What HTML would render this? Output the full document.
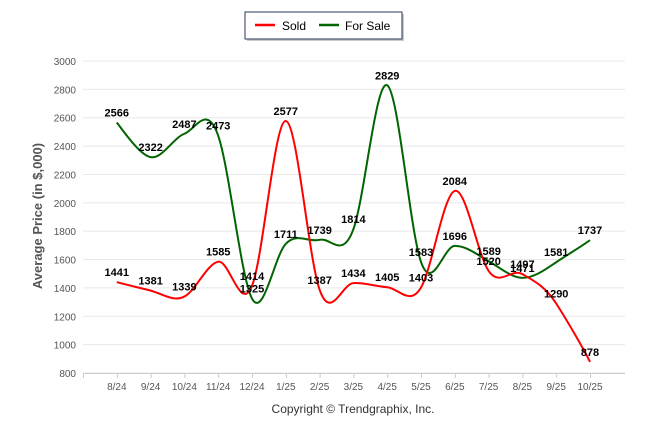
<!DOCTYPE html>
<html><head><meta charset="utf-8"><style>
body{margin:0;background:#fff;font-family:"Liberation Sans",sans-serif}
svg text{font-family:"Liberation Sans",sans-serif}
</style></head><body>
<svg width="646" height="434" id="c">
<rect x="0" y="0" width="646" height="434" fill="#fff"/>
<g>
<rect x="247" y="14" width="157" height="27" fill="#666" opacity="0.35"/>
<rect x="245" y="12" width="157" height="27" fill="#fff" stroke="#2a3a5a" stroke-width="1"/>
<line x1="255" y1="25" x2="275" y2="25" stroke="#f00" stroke-width="2.5"/>
<text x="282" y="30" font-size="12" fill="#000">Sold</text>
<line x1="319" y1="25" x2="339" y2="25" stroke="#006400" stroke-width="2.5"/>
<text x="345" y="30" font-size="12" fill="#000">For Sale</text>
</g>
<g id="grid"></g>
<g id="series"></g>
<g id="labels"></g>
<text transform="translate(42,216) rotate(-90)" text-anchor="middle" font-size="13" font-weight="bold" fill="#555">Average Price (in $,000)</text>
<text x="353" y="413" text-anchor="middle" font-size="12" fill="#333">Copyright © Trendgraphix, Inc.</text>
</svg>
<script>
const categories=["8/24","9/24","10/24","11/24","12/24","1/25","2/25","3/25","4/25","5/25","6/25","7/25","8/25","9/25","10/25"];
const soldValues=[1441,1381,1339,1585,1414,2577,1387,1434,1405,1403,2084,1520,1497,1290,878];
const forSaleValues=[2566,2322,2487,2473,1325,1711,1739,1814,2829,1583,1696,1589,1471,1581,1737];
const yTicks=[800,1000,1200,1400,1600,1800,2000,2200,2400,2600,2800,3000];
const NS="http://www.w3.org/2000/svg";
const left=83,right=625,step=33.8;
function xs(i){return left+(i+1)*step;}
function ys(v){return 373-(v-800)*(312/2200);}
const grid=document.getElementById('grid');
function el(t,a,p){const e=document.createElementNS(NS,t);for(const k in a)e.setAttribute(k,a[k]);p.appendChild(e);return e;}
yTicks.forEach(v=>{
 const l=el('line',{x1:left,x2:right,y1:ys(v),y2:ys(v),stroke:'#e8e8e8','stroke-width':1},grid);
 
 
 const t=el('text',{x:left-7,y:ys(v)+4,'text-anchor':'end','font-size':10,fill:'#555'},grid);
 t.textContent=v;
 
 
});
const ax=el('line',{x1:left,x2:right,y1:373.5,y2:373.5,stroke:'#ccc'},grid);


for(let i=0;i<=categories.length;i++){const tk=el('line',{x1:left+i*step+0.5,x2:left+i*step+0.5,y1:373,y2:378,stroke:'#ccc'},grid);
 
 }
categories.forEach((c,i)=>{
 const t=el('text',{x:xs(i),y:390,'text-anchor':'middle','font-size':10,fill:'#555'},grid);
 t.textContent=c;
 
 
});
function path(vals){
 const p=vals.map((v,i)=>[xs(i),ys(v)]);
 let d='M'+p[0][0]+','+p[0][1];
 for(let i=0;i<p.length-1;i++){
  const p0=p[i-1]||p[i],p1=p[i],p2=p[i+1],p3=p[i+2]||p2;
  const c1=[p1[0]+(p2[0]-p0[0])/6,p1[1]+(p2[1]-p0[1])/6*1.2];
  const c2=[p2[0]-(p3[0]-p1[0])/6,p2[1]-(p3[1]-p1[1])/6*1.2];
  d+=' C'+c1[0]+','+c1[1]+' '+c2[0]+','+c2[1]+' '+p2[0]+','+p2[1];
 }
 return d;
}
const sg=document.getElementById('series'),lg=document.getElementById('labels');
[[forSaleValues,'#006400','for-sale'],[soldValues,'#f00','sold']].forEach(([vals,col,name])=>{
 const p=el('path',{d:path(vals),fill:'none',stroke:col,'stroke-width':2},sg);
 
 
 vals.forEach((v,i)=>{
  const t=el('text',{x:xs(i),y:ys(v)-6,'text-anchor':'middle','font-size':11,'font-weight':'bold',fill:'#000'},lg);
  t.textContent=v;
  
  
 });
});
</script>
</body></html>
